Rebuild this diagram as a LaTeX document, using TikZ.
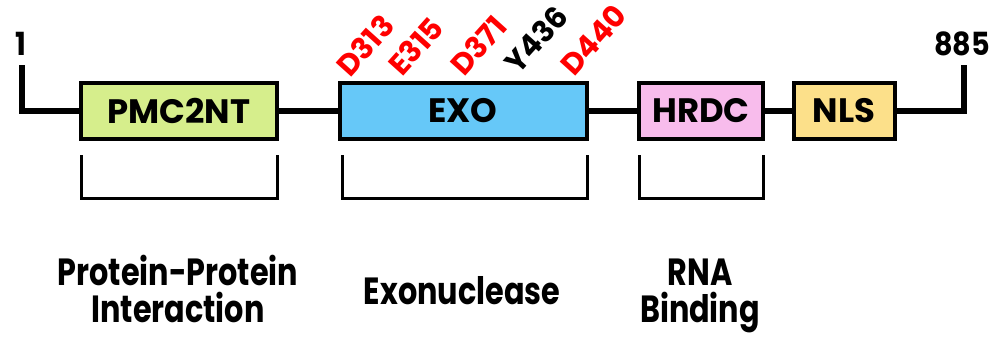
\documentclass[tikz,border=0pt]{standalone}
\usepackage{fontspec}
\setmainfont[FakeStretch=0.8]{Poppins}
\newfontfamily\plainfont{Poppins}
\newfontfamily\endfont[FakeStretch=0.9]{Poppins}
\begin{document}
\begin{tikzpicture}[x=1bp,y=1bp,
  every node/.style={font=\bfseries},
  dombox/.style={draw=black,line width=4bp,minimum height=56bp,inner sep=0pt,font=\plainfont\bfseries\fontsize{34}{40}\selectfont},
  backbone/.style={line width=6.5bp},
  brk/.style={line width=3bp},
  site/.style={rotate=48,anchor=base west,inner sep=0pt,font=\plainfont\bfseries\fontsize{30}{34}\selectfont},
  func/.style={align=center,anchor=base,inner sep=0pt,font=\bfseries\fontsize{38}{37}\selectfont},
  endlab/.style={anchor=base,inner sep=0pt,font=\endfont\bfseries\fontsize{32}{36}\selectfont}]
\definecolor{pmc}{HTML}{D6EE8C}
\definecolor{exo}{HTML}{66C8F8}
\definecolor{hrdc}{HTML}{F8BCEC}
\definecolor{nls}{HTML}{FCE08A}
\definecolor{sitered}{HTML}{FF0000}
\useasboundingbox (0,0) rectangle (1002,-336);
\coordinate (s0) at (22,-65);
\coordinate (s1) at (22,-111);
\coordinate (e0) at (964,-65);
\coordinate (e1) at (964,-111);
\draw[backbone] (s0) -- (s1) -- (e1) -- (e0);
\node[dombox,fill=pmc,minimum width=196bp] (pmc) at (179,-111) {PMC2NT};
\node[dombox,fill=exo,minimum width=247bp] (exo) at (463,-111) {EXO};
\node[dombox,fill=hrdc,minimum width=124bp] (hrdc) at (701,-111) {HRDC};
\node[dombox,fill=nls,minimum width=101bp] (nls) at (844,-111) {NLS};
\node[endlab] (one) at (21,-55) {1};
\node[endlab] (end) at (962,-55) {885};
\node[site,text=sitered] (d313) at (350,-79) {D313};
\node[site,text=sitered] (e315) at (402,-78) {E315};
\node[site,text=sitered] (d371) at (464,-78) {D371};
\node[site] (y436) at (518,-76) {Y436};
\node[site,text=sitered] (d440) at (574,-78) {D440};
\draw[brk] (81,-155) -- (81,-198) -- (277,-198) -- (277,-155);
\draw[brk] (342,-155) -- (342,-198) -- (587,-198) -- (587,-155);
\draw[brk] (639,-155) -- (639,-198) -- (763,-198) -- (763,-155);
\node[func] (ppi) at (178,-322) {Protein-Protein\\Interaction};
\node[func] (exn) at (462,-304) {Exonuclease};
\node[func] (rna) at (700,-322) {RNA\\Binding};
\end{tikzpicture}
\end{document}
